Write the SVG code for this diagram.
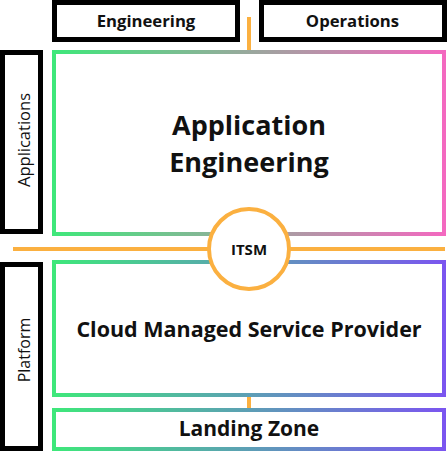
<svg xmlns="http://www.w3.org/2000/svg" width="447" height="462" viewBox="0 0 447 462">
<defs>
<linearGradient id="gApp" gradientUnits="userSpaceOnUse" x1="52" y1="0" x2="446" y2="0">
<stop offset="0" stop-color="#3ee87a"/>
<stop offset="1" stop-color="#f468c0"/>
</linearGradient>
<linearGradient id="gPlat" gradientUnits="userSpaceOnUse" x1="52" y1="0" x2="446" y2="0">
<stop offset="0" stop-color="#3ee87a"/>
<stop offset="1" stop-color="#7b55f0"/>
</linearGradient>
<style>
.lbl{fill:#fff;stroke:#000;stroke-width:5}
.t{font-family:"Open Sans","Liberation Sans",sans-serif;fill:#111;text-anchor:middle}
.b{font-weight:700}
.conn{stroke:#fbb040;stroke-width:4;fill:none}
</style>
</defs>
<rect width="447" height="462" fill="#fff"/>
<g id="connectors">
<line class="conn" x1="249" y1="17" x2="249" y2="52"/>
<line class="conn" x1="13" y1="249" x2="445" y2="249"/>
<line class="conn" x1="249" y1="396" x2="249" y2="410"/>
</g>
<g id="engineering">
<rect class="lbl" x="54.5" y="2.5" width="183" height="37"/>
<text class="t b" x="146" y="27" font-size="16.7">Engineering</text>
</g>
<g id="operations">
<rect class="lbl" x="261.5" y="2.5" width="183" height="37"/>
<text class="t b" x="352.5" y="27" font-size="16.7">Operations</text>
</g>
<g id="applications">
<rect class="lbl" x="2.5" y="52.5" width="38" height="179"/>
<text class="t" transform="translate(29.5,140) rotate(-90)" font-size="16.5">Applications</text>
</g>
<g id="platform">
<rect class="lbl" x="2.5" y="264.5" width="38" height="184"/>
<text class="t" transform="translate(29.5,350) rotate(-90)" font-size="16">Platform</text>
</g>
<g id="application-engineering">
<rect x="54" y="52" width="390" height="182" fill="none" stroke="url(#gApp)" stroke-width="4"/>
<text class="t b" x="249" y="135" font-size="27">Application</text>
<text class="t b" x="249" y="172" font-size="27">Engineering</text>
</g>
<g id="cmsp">
<rect x="54" y="262" width="390" height="133" fill="none" stroke="url(#gPlat)" stroke-width="4"/>
<text class="t b" x="249" y="337" font-size="21.5">Cloud Managed Service Provider</text>
</g>
<g id="landing-zone">
<rect x="54" y="410" width="390" height="39" fill="none" stroke="url(#gPlat)" stroke-width="4"/>
<text class="t b" x="249" y="436" font-size="21">Landing Zone</text>
</g>
<g id="itsm">
<circle cx="249" cy="249" r="40" fill="#fff" stroke="#fbb040" stroke-width="4"/>
<text class="t b" x="249" y="255" font-size="15">ITSM</text>
</g>
</svg>
